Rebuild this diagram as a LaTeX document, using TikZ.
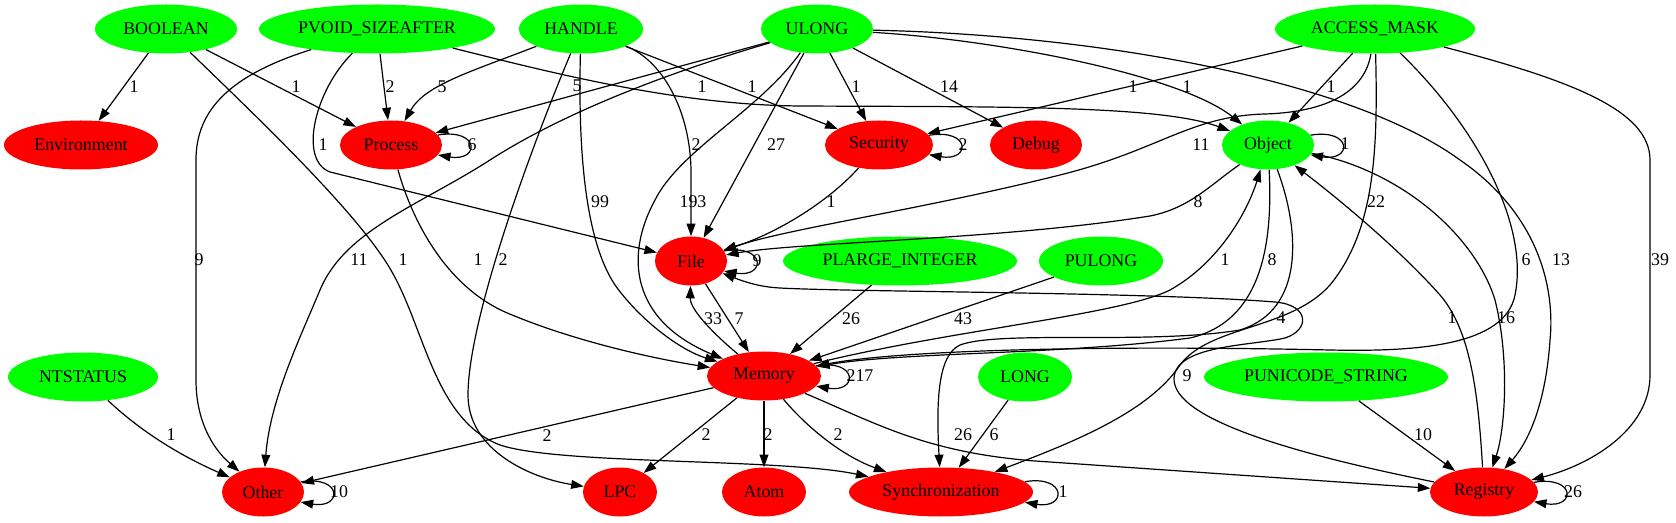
\documentclass[tikz,border=0pt]{standalone}
\usepackage{fontspec}
\setmainfont{Liberation Serif}
\usetikzlibrary{shapes.geometric,arrows.meta}
\definecolor{gvgreen}{RGB}{0,255,0}
\definecolor{gvred}{RGB}{255,0,0}
\newcommand\gvfont{\fontsize{13.4}{16}\selectfont}
\begin{document}
\begin{tikzpicture}[x=0.75pt,y=-0.75pt,
  gn/.style={ellipse, fill=gvgreen, inner sep=0pt, minimum height=36.75pt, minimum width=#1*1.5pt, font=\gvfont},
  rn/.style={ellipse, fill=gvred, inner sep=0pt, minimum height=36.75pt, minimum width=#1*1.5pt, font=\gvfont},
  e/.style={draw=black, line width=0.9pt, -{Triangle[length=9.4pt,width=6.6pt]}},
  lb/.style={font=\gvfont, inner sep=0pt}]
\fill[white] (0,0) rectangle (1676,523);
\useasboundingbox (0,0) rectangle (1676,523);
% nodes
\node[gn=71]  (BOOL)   at (166,29)  {BOOLEAN};
\node[gn=118] (PVOID)  at (377,29)  {PVOID\_SIZEAFTER};
\node[gn=62]  (HANDLE) at (581,29)  {HANDLE};
\node[gn=56]  (ULONG)  at (817,29)  {ULONG};
\node[gn=100] (AMASK)  at (1375,29) {ACCESS\_MASK};
\node[rn=77]  (ENV)    at (81,145)  {Environment};
\node[rn=51]  (PROC)   at (391,145) {Process};
\node[rn=54]  (SEC)    at (879,145) {Security};
\node[rn=46]  (DBG)    at (1036,145) {Debug};
\node[gn=46]  (OBJ)    at (1268,145) {Object};
\node[rn=36]  (FILE)   at (691,261) {File};
\node[gn=117] (PLI)    at (900,261) {PLARGE\_INTEGER};
\node[gn=62]  (PUL)    at (1101,261) {PULONG};
\node[gn=75]  (NTS)    at (83,377)  {NTSTATUS};
\node[rn=57]  (MEM)    at (764,376) {Memory};
\node[gn=47]  (LONG)   at (1025,377) {LONG};
\node[gn=122] (PUS)    at (1326,377) {PUNICODE\_STRING};
\node[rn=41]  (OTH)    at (263,492) {Other};
\node[rn=37]  (LPC)    at (620,492) {LPC};
\node[rn=42]  (ATOM)   at (764,492) {Atom};
\node[rn=92]  (SYNC)   at (941,492) {Synchronization};
\node[rn=54]  (REG)    at (1484,492) {Registry};
% edges
\draw[e] (BOOL) -- (ENV);
\draw[e] (BOOL) -- (PROC);
\draw[e] (BOOL) .. controls (260,120) and (360,215) .. (392,272) .. controls (425,330) and (435,420) .. (500,445) .. controls (560,465) and (780,458) .. (SYNC);
\draw[e] (PVOID) .. controls (230,75) and (196,110) .. (196,160) -- (196,380) .. controls (196,420) and (212,448) .. (OTH);
\draw[e] (PVOID) -- (PROC);
\draw[e] (PVOID) .. controls (315,90) and (298,160) .. (330,172) -- (FILE);
\draw[e] (PVOID) .. controls (560,75) and (680,105) .. (800,106) .. controls (1000,107) and (1160,105) .. (OBJ);
\draw[e] (HANDLE) .. controls (470,72) and (425,85) .. (PROC);
\draw[e] (HANDLE) .. controls (530,150) and (468,320) .. (468,395) .. controls (468,450) and (530,478) .. (LPC);
\draw[e] (HANDLE) .. controls (578,150) and (585,240) .. (615,285) .. controls (640,320) and (680,350) .. (MEM);
\draw[e] (HANDLE) .. controls (662,60) and (690,110) .. (691,170) -- (FILE);
\draw[e] (HANDLE) -- (SEC);
\draw[e] (ULONG) -- (PROC);
\draw[e] (ULONG) .. controls (660,75) and (560,115) .. (490,160) .. controls (420,205) and (345,230) .. (320,290) .. controls (300,338) and (270,400) .. (OTH);
\draw[e] (ULONG) .. controls (760,110) and (680,150) .. (655,200) .. controls (625,255) and (630,320) .. (MEM);
\draw[e] (ULONG) -- (FILE);
\draw[e] (ULONG) -- (SEC);
\draw[e] (ULONG) -- (DBG);
\draw[e] (ULONG) .. controls (1000,40) and (1180,75) .. (OBJ);
\draw[e] (ULONG) .. controls (1100,35) and (1350,80) .. (1460,160) .. controls (1540,215) and (1555,290) .. (1550,340) .. controls (1546,400) and (1530,440) .. (REG);
\draw[e] (AMASK) -- (SEC);
\draw[e] (AMASK) -- (OBJ);
\draw[e] (AMASK) .. controls (1365,90) and (1330,112) .. (1265,114) .. controls (1190,116) and (1160,150) .. (1060,175) .. controls (920,210) and (790,228) .. (FILE);
\draw[e] (AMASK) .. controls (1378,150) and (1375,230) .. (1330,285) .. controls (1290,330) and (1210,325) .. (1180,365) .. controls (1150,410) and (1080,440) .. (SYNC);
\draw[e] (AMASK) .. controls (1470,120) and (1530,220) .. (1515,295) .. controls (1505,345) and (1420,352) .. (1330,350) .. controls (1100,345) and (900,350) .. (MEM);
\draw[e] (AMASK) .. controls (1570,80) and (1650,110) .. (1650,160) -- (1650,375) .. controls (1650,430) and (1590,465) .. (REG);
\draw[e] (OBJ) .. controls (1210,185) and (1190,208) .. (1150,216) .. controls (1000,240) and (800,242) .. (FILE);
\draw[e] (OBJ) .. controls (1272,230) and (1268,320) .. (1190,338) .. controls (1060,355) and (900,352) .. (MEM);
\draw[e] (OBJ) .. controls (1300,230) and (1305,310) .. (1240,330) .. controls (1150,345) and (1000,330) .. (960,345) .. controls (938,355) and (936,400) .. (SYNC);
\draw[e] (OBJ) .. controls (1400,170) and (1475,235) .. (1495,300) .. controls (1510,360) and (1505,430) .. (REG);
\draw[e] (MEM) .. controls (950,330) and (1120,315) .. (1170,290) .. controls (1220,262) and (1248,210) .. (OBJ);
\draw[e] (REG) .. controls (1478,390) and (1470,330) .. (1440,295) .. controls (1400,250) and (1340,200) .. (OBJ);
\draw[e] (REG) .. controls (1300,455) and (1172,420) .. (1174,378) .. controls (1176,345) and (1250,346) .. (1285,338) .. controls (1310,330) and (1310,305) .. (1275,302) .. controls (1150,292) and (850,292) .. (780,288) .. controls (760,287) and (745,282) .. (FILE);
\draw[e] (SEC) .. controls (830,200) and (780,232) .. (FILE);
\draw[e] (PROC) .. controls (412,220) and (445,285) .. (505,312) .. controls (570,340) and (650,358) .. (MEM);
\draw[e] (MEM) .. controls (715,335) and (690,310) .. (FILE);
\draw[e] (FILE) -- (MEM);
\draw[e] (PLI) -- (MEM);
\draw[e] (PUL) -- (MEM);
\draw[e] (MEM) -- (OTH);
\draw[e] (MEM) -- (LPC);
\draw[e] (MEM) -- (ATOM);
\draw[e] (MEM) .. controls (805,425) and (840,455) .. (SYNC);
\draw[e] (MEM) .. controls (880,425) and (930,455) .. (1050,462) -- (REG);
\draw[e] (LONG) -- (SYNC);
\draw[e] (PUS) -- (REG);
\draw[e] (NTS) .. controls (150,440) and (195,462) .. (OTH);
% self loops
\draw[e] (PROC.12) .. controls +(42,-7) and +(42,7) .. (PROC.-12);
\draw[e] (SEC.11.5) .. controls +(42,-7) and +(42,7) .. (SEC.-11.5);
\draw[e] (OBJ.13.4) .. controls +(42,-7) and +(42,7) .. (OBJ.-13.4);
\draw[e] (FILE.17) .. controls +(42,-7) and +(42,7) .. (FILE.-17);
\draw[e] (MEM.11) .. controls +(42,-7) and +(42,7) .. (MEM.-11);
\draw[e] (OTH.15) .. controls +(42,-7) and +(42,7) .. (OTH.-15);
\draw[e] (SYNC.7) .. controls +(42,-7) and +(42,7) .. (SYNC.-7);
\draw[e] (REG.11.5) .. controls +(42,-7) and +(42,7) .. (REG.-11.5);
% labels
\node[lb] (l01) at (134,87) {1};
\node[lb] (l02) at (296,87) {1};
\node[lb] (l03) at (390,87) {2};
\node[lb] (l04) at (442,87) {5};
\node[lb] (l05) at (577,86) {5};
\node[lb] (l06) at (702,87) {1};
\node[lb] (l07) at (752,87) {1};
\node[lb] (l08) at (856,87) {1};
\node[lb] (l09) at (949,87) {14};
\node[lb] (l10) at (1133,87) {1};
\node[lb] (l11) at (1187,87) {1};
\node[lb] (l12) at (1331,87) {1};
\node[lb] (l13) at (323,145) {1};
\node[lb] (l14) at (472,145) {6};
\node[lb] (l15) at (696,145) {2};
\node[lb] (l16) at (776,145) {27};
\node[lb] (l17) at (963,145) {2};
\node[lb] (l18) at (1201,145) {11};
\node[lb] (l19) at (1345,144) {1};
\node[lb] (l20) at (600,202) {99};
\node[lb] (l21) at (693,202) {193};
\node[lb] (l22) at (831,202) {1};
\node[lb] (l23) at (1198,202) {8};
\node[lb] (l24) at (1376,202) {22};
\node[lb] (l25) at (199,260) {9};
\node[lb] (l26) at (359,260) {11};
\node[lb] (l27) at (403,260) {1};
\node[lb] (l28) at (478,260) {1};
\node[lb] (l29) at (503,260) {2};
\node[lb] (l30) at (757,261) {9};
\node[lb] (l31) at (1225,260) {1};
\node[lb] (l32) at (1272,260) {8};
\node[lb] (l33) at (1526,260) {6};
\node[lb] (l34) at (1561,260) {13};
\node[lb] (l35) at (1660,260) {39};
\node[lb] (l36) at (713,319) {33};
\node[lb] (l37) at (739,319) {7};
\node[lb] (l38) at (851,319) {26};
\node[lb] (l39) at (963,319) {43};
\node[lb] (l40) at (1281,318) {4};
\node[lb] (l41) at (1452,318) {1};
\node[lb] (l42) at (1506,318) {16};
\node[lb] (l43) at (860,376) {217};
\node[lb] (l44) at (1187,376) {9};
\node[lb] (l45) at (171,435) {1};
\node[lb] (l46) at (547,436) {2};
\node[lb] (l47) at (706,435) {2};
\node[lb] (l48) at (768,435) {2};
\node[lb] (l49) at (838,435) {2};
\node[lb] (l50) at (963,435) {26};
\node[lb] (l51) at (994,435) {6};
\node[lb] (l52) at (1423,435) {10};
\node[lb] (l53) at (339,492) {10};
\node[lb] (l54) at (1063,492) {1};
\node[lb] (l55) at (1573,492) {26};
\end{tikzpicture}
\end{document}
